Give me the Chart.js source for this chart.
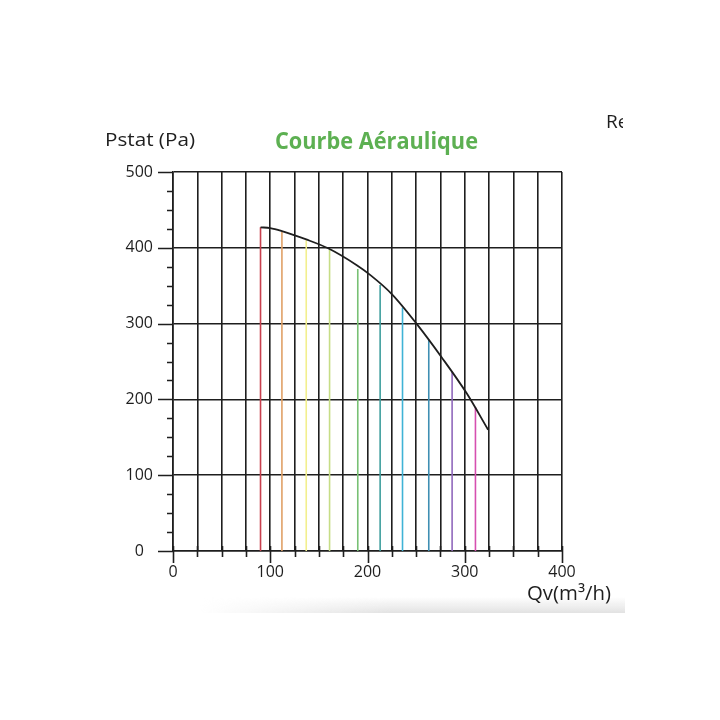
<!DOCTYPE html>
<html><head><meta charset="utf-8">
<script src="https://cdn.jsdelivr.net/npm/chart.js@4"></script>
<style>
html,body{margin:0;padding:0;background:#fff;}
#wrap{position:relative;width:720px;height:720px;overflow:hidden;background:#fff;}
#c{position:absolute;left:0;top:0;}
.t{position:absolute;white-space:nowrap;font-family:"Open Sans",sans-serif;color:#1e1e1e;line-height:1;transform-origin:0 0;}
#ylab{left:105px;top:130px;font-size:18px;}
#title{left:275px;top:129px;font-size:23px;font-weight:bold;color:#5db052;}
#xlab{left:527px;top:583px;font-size:20px;}
#reclip{position:absolute;left:600px;top:108px;width:23px;height:30px;overflow:hidden;}
#re{left:6px;top:4px;font-size:19px;}
#shadow{position:absolute;left:200px;top:597px;width:425px;height:16px;
 background:linear-gradient(to bottom, rgba(230,230,230,0), rgba(226,226,226,1));
 -webkit-mask-image:linear-gradient(to right, rgba(0,0,0,0), rgba(0,0,0,1) 45%);
 mask-image:linear-gradient(to right, rgba(0,0,0,0), rgba(0,0,0,1) 45%);}
</style></head><body>
<div id="wrap">
<div id="shadow"></div>
<canvas id="c" width="720" height="720"></canvas>
<div class="t" id="ylab">Pstat (Pa)</div>
<div class="t" id="title">Courbe Aéraulique</div>
<div class="t" id="xlab">Qv(m³/h)</div>
<div id="reclip"><div class="t" id="re">Re</div></div>
</div>
<script>
// ---- data ----
const curveQv    = [90, 100, 112, 137, 160, 189, 203, 225, 251, 276, 302, 324];
const curvePstat = [427, 426, 422, 411, 399, 377, 364, 339, 299, 256, 208, 160];
const lineQv     = [90, 112, 137, 161, 190, 213, 236, 263, 287, 311];
const lineTop    = [427, 421, 410, 398, 372, 351, 321, 279, 237, 190];
const xTickLabels = [0, 100, 200, 300, 400];
const yTickLabels = [0, 100, 200, 300, 400, 500];

// ---- styles ----
const lineColors = ['#c8404e','#e0a066','#f2ef8e','#c6dd86','#78c074','#3f9f9e','#3fb3d6','#3f8fb3','#9068bc','#d64fb0'];
const ink = '#1e1e1e';

function fit(id, w){
  const el = document.getElementById(id);
  const r = el.getBoundingClientRect();
  el.style.transform = 'scaleX(' + (w / r.width) + ')';
}
fit('ylab', 90); fit('title', 203); fit('xlab', 84);

const datasets = [{
  data: curveQv.map((q, i) => ({x: q, y: curvePstat[i]})),
  showLine: true, borderColor: ink, borderWidth: 1.8, pointRadius: 0,
  cubicInterpolationMode: 'monotone', order: 0
}];
lineQv.forEach((q, i) => {
  datasets.push({
    data: [{x: q, y: 0}, {x: q, y: lineTop[i]}],
    showLine: true, borderColor: lineColors[i], borderWidth: 1.6, pointRadius: 0, order: 1
  });
});

const tickPlugin = {
  id: 'tickMarks',
  afterDraw(chart){
    const {ctx, chartArea: a, scales: {x, y}} = chart;
    ctx.save();
    ctx.strokeStyle = ink; ctx.lineWidth = 1.6;
    ctx.beginPath();
    y.ticks.forEach(t => {
      const py = Math.round(y.getPixelForValue(t.value)) + 0.5;
      const major = yTickLabels.includes(t.value);
      ctx.moveTo(a.left - (major ? 15 : 6), py); ctx.lineTo(a.left, py);
    });
    x.ticks.forEach(t => {
      const px = Math.round(x.getPixelForValue(t.value)) + 0.5;
      const major = xTickLabels.includes(t.value);
      ctx.moveTo(px, a.bottom - 5); ctx.lineTo(px, a.bottom + (major ? 12 : 6));
    });
    ctx.stroke();
    ctx.restore();
  }
};

const font = {family: "'Open Sans', sans-serif", size: 16};
new Chart(document.getElementById('c'), {
  type: 'scatter',
  data: {datasets},
  plugins: [tickPlugin],
  options: {
    responsive: false, animation: false, devicePixelRatio: 1,
    layout: {padding: {left: 100, right: 158, top: 172, bottom: 100}},
    plugins: {legend: {display: false}, tooltip: {enabled: false}},
    scales: {
      x: {
        type: 'linear', min: 0, max: 400,
        afterFit(s){ s.height = 69; },
        ticks: {stepSize: 25, autoSkip: false, maxRotation: 0, minRotation: 0, padding: 12, color: ink, font,
          callback: v => xTickLabels.includes(v) ? String(v) : ''},
        grid: {color: ink, lineWidth: 1.6, drawTicks: false},
        border: {display: true, color: ink, width: 1.6}
      },
      y: {
        type: 'linear', min: 0, max: 500,
        afterFit(s){ s.width = 73; },
        ticks: {stepSize: 25, autoSkip: false, padding: 20, crossAlign: 'center', color: ink, font,
          callback: v => yTickLabels.includes(v) ? String(v) : ''},
        grid: {color: c => (c.tick && yTickLabels.includes(c.tick.value)) ? ink : 'rgba(0,0,0,0)', lineWidth: 1.6, drawTicks: false},
        border: {display: true, color: ink, width: 1.6}
      }
    }
  }
});
</script>
</body></html>
